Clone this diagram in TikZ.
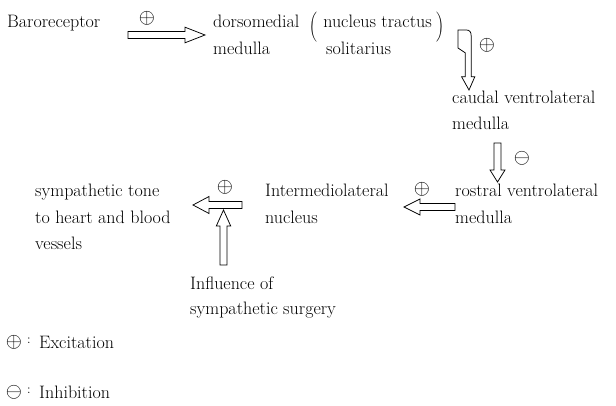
\documentclass[tikz,border=0pt]{standalone}
\usetikzlibrary{calc}
\tikzset{
  txt/.style={anchor=base west, inner sep=0pt, font=\fontsize{18}{26}\selectfont},
  sym/.style={anchor=center, inner sep=0pt, font=\fontsize{22}{22}\selectfont},
  blk/.style={draw=black, fill=white, line width=0.75pt, line join=miter},
}
\newcommand\blockarrow[5]{%
  \path ($(#2)!#5!(#1)$) coordinate (hb);
  \draw[blk] ($(#1)!#3!90:(#2)$) -- ($(hb)!#3!90:(#2)$) -- ($(hb)!#4!90:(#2)$) -- (#2)
    -- ($(hb)!#4!-90:(#2)$) -- ($(hb)!#3!-90:(#2)$) -- ($(#1)!#3!-90:(#2)$) -- cycle;
}
\newcommand\tallparenl{\raisebox{-3.5pt}{$\left(\vrule height 18pt depth 0pt width 0pt\right.$}}
\newcommand\tallparenr{\raisebox{-3.5pt}{$\left.\vrule height 18pt depth 0pt width 0pt\right)$}}
\begin{document}
\begin{tikzpicture}[x=1pt, y=-1pt]
\useasboundingbox (0,0) rectangle (616,406);
% texts
\node[txt] (baro) at (7,28) {Baroreceptor};
\node[txt] (dm1) at (213,28) {dorsomedial};
\node[txt] (dm2) at (213,55) {medulla};
\node[txt] (nts1) at (309,28) {\tallparenl\hspace{5pt}nucleus tractus\hspace{3pt}\tallparenr};
\node[txt] (nts2) at (326,55) {solitarius};
\node[txt] (cv1) at (452,104) {caudal ventrolateral};
\node[txt] (cv2) at (452,130) {medulla};
\node[txt] (rv1) at (455,197) {rostral ventrolateral};
\node[txt] (rv2) at (455,223.5) {medulla};
\node[txt] (im1) at (265,197) {Intermediolateral};
\node[txt] (im2) at (265,223.5) {nucleus};
\node[txt] (st1) at (35,197) {sympathetic tone};
\node[txt] (st2) at (35,223.5) {to heart and blood};
\node[txt] (st3) at (35,249.5) {vessels};
\node[txt] (inf1) at (190,289) {Influence of};
\node[txt] (inf2) at (190,314.5) {sympathetic surgery};
% signs
\node[sym] (p1) at (147,18) {$\oplus$};
\node[sym] (p2) at (487,45) {$\oplus$};
\node[sym] (m1) at (522,158) {$\ominus$};
\node[sym] (p3) at (422,189) {$\oplus$};
\node[sym] (p4) at (225,187.5) {$\oplus$};
% legend
\node[sym] (lp) at (14,342) {$\oplus$};
\node[txt] (lpc) at (27,347) {\raisebox{3.5pt}{\fontsize{13}{13}\selectfont:}};
\node[txt] (lpt) at (39,348) {Excitation};
\node[sym] (lm) at (14,392) {$\ominus$};
\node[txt] (lmc) at (27,397) {\raisebox{3.5pt}{\fontsize{13}{13}\selectfont:}};
\node[txt] (lmt) at (39,398) {Inhibition};
% arrow end points
\coordinate (a1s) at (128,35);     \coordinate (a1t) at (205,35);
\coordinate (a2s) at (497.5,143);  \coordinate (a2t) at (497.5,182);
\coordinate (a3s) at (455,207);    \coordinate (a3t) at (404,207);
\coordinate (a4s) at (242,205);    \coordinate (a4t) at (193,205);
\coordinate (a5s) at (223.5,265);  \coordinate (a5t) at (223.5,210);
\blockarrow{a1s}{a1t}{3.6pt}{7.8pt}{20pt}
\blockarrow{a2s}{a2t}{3.5pt}{7.5pt}{12pt}
\blockarrow{a3s}{a3t}{3.4pt}{8pt}{16pt}
\blockarrow{a4s}{a4t}{3.5pt}{8.5pt}{16pt}
\blockarrow{a5s}{a5t}{3.5pt}{7.2pt}{16pt}
% bent arrow
\begin{scope}[shift={(458,30)}]
\draw[blk] (0,0) -- (0,18) -- (7.2,22.8) -- (7.2,46.8) -- (3.6,46.8) -- (11,60) -- (16.8,46.8)
  -- (13.2,46.8) -- (13.2,6) .. controls (13.2,2) and (11.5,0) .. (8.4,0) -- cycle;
\end{scope}
\end{tikzpicture}
\end{document}
